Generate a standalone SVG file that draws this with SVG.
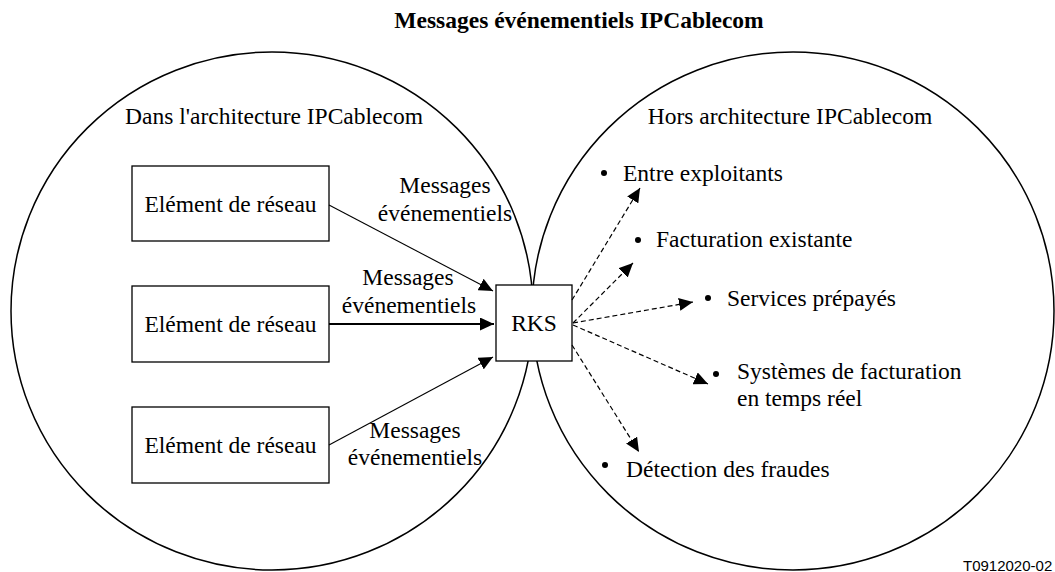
<svg xmlns="http://www.w3.org/2000/svg" width="1055" height="572" viewBox="0 0 1055 572">
<defs>
<marker id="ah" markerUnits="userSpaceOnUse" markerWidth="15" markerHeight="13" refX="14" refY="6.5" orient="auto">
<path d="M0,0 L14,6.5 L0,13 z" fill="#000"/>
</marker>
</defs>
<rect width="1055" height="572" fill="#fff"/>
<text x="579" y="28" text-anchor="middle" font-family="Liberation Serif" font-size="23.5" font-weight="bold">Messages événementiels IPCablecom</text>
<g id="inside">
<ellipse cx="272" cy="311" rx="261" ry="259" fill="none" stroke="#000" stroke-width="1.5"/>
<text x="274" y="124" text-anchor="middle" font-family="Liberation Serif" font-size="23.5">Dans l'architecture IPCablecom</text>
</g>
<g id="outside">
<ellipse cx="793" cy="311" rx="261" ry="259" fill="none" stroke="#000" stroke-width="1.5"/>
<text x="790" y="124" text-anchor="middle" font-family="Liberation Serif" font-size="23.5">Hors architecture IPCablecom</text>
</g>
<g id="ne1"><rect x="132" y="166" width="197" height="75" fill="#fff" stroke="#000" stroke-width="1.3"/><text x="230.5" y="211.5" text-anchor="middle" font-family="Liberation Serif" font-size="23.5">Elément de réseau</text></g>
<g id="ne2"><rect x="132" y="286" width="197" height="76" fill="#fff" stroke="#000" stroke-width="1.3"/><text x="230.5" y="332" text-anchor="middle" font-family="Liberation Serif" font-size="23.5">Elément de réseau</text></g>
<g id="ne3"><rect x="132" y="407" width="197" height="76" fill="#fff" stroke="#000" stroke-width="1.3"/><text x="230.5" y="453" text-anchor="middle" font-family="Liberation Serif" font-size="23.5">Elément de réseau</text></g>
<g id="rks"><rect x="496" y="285" width="76" height="76" fill="#fff" stroke="#000" stroke-width="1.3"/><text x="534" y="331" text-anchor="middle" font-family="Liberation Serif" font-size="23.5">RKS</text></g>
<g id="targets">
<circle cx="604" cy="173" r="3"/><text x="623" y="181" font-family="Liberation Serif" font-size="23.5">Entre exploitants</text>
<circle cx="638" cy="240" r="3"/><text x="656" y="247" font-family="Liberation Serif" font-size="23.5">Facturation existante</text>
<circle cx="708" cy="298" r="3"/><text x="727" y="306" font-family="Liberation Serif" font-size="23.5">Services prépayés</text>
<circle cx="716" cy="374" r="3"/><text x="737" y="379" font-family="Liberation Serif" font-size="23.5">Systèmes de facturation</text><text x="737" y="406" font-family="Liberation Serif" font-size="23.5">en temps réel</text>
<circle cx="605" cy="465" r="3"/><text x="626" y="477" font-family="Liberation Serif" font-size="23.5">Détection des fraudes</text>
</g>
<g id="connectors">
<line x1="329" y1="205" x2="493" y2="291" stroke="#000" stroke-width="1.1" marker-end="url(#ah)"/>
<line x1="329" y1="324" x2="494" y2="324" stroke="#000" stroke-width="2.2" marker-end="url(#ah)"/>
<line x1="329" y1="445" x2="493" y2="357" stroke="#000" stroke-width="1.1" marker-end="url(#ah)"/>
<line x1="572" y1="300" x2="640" y2="188" stroke="#000" stroke-width="1.2" stroke-dasharray="5 3" marker-end="url(#ah)"/>
<line x1="573" y1="323" x2="633" y2="263" stroke="#000" stroke-width="1.2" stroke-dasharray="5 3" marker-end="url(#ah)"/>
<line x1="573" y1="323" x2="693" y2="302" stroke="#000" stroke-width="1.2" stroke-dasharray="5 3" marker-end="url(#ah)"/>
<line x1="573" y1="325" x2="708" y2="384" stroke="#000" stroke-width="1.2" stroke-dasharray="5 3" marker-end="url(#ah)"/>
<line x1="572" y1="345" x2="639" y2="452" stroke="#000" stroke-width="1.2" stroke-dasharray="5 3" marker-end="url(#ah)"/>
<text x="445" y="193" text-anchor="middle" font-family="Liberation Serif" font-size="23.5">Messages</text><text x="445" y="221" text-anchor="middle" font-family="Liberation Serif" font-size="23.5">événementiels</text>
<text x="408" y="285" text-anchor="middle" font-family="Liberation Serif" font-size="23.5">Messages</text><text x="409" y="313" text-anchor="middle" font-family="Liberation Serif" font-size="23.5">événementiels</text>
<text x="415" y="438" text-anchor="middle" font-family="Liberation Serif" font-size="23.5">Messages</text><text x="415" y="465" text-anchor="middle" font-family="Liberation Serif" font-size="23.5">événementiels</text>
</g>
<text x="963" y="571" font-family="Liberation Sans" font-size="15">T0912020-02</text>
</svg>
